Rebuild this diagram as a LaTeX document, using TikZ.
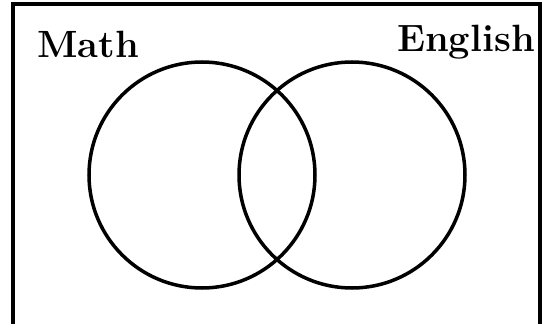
\documentclass[tikz,border=0pt]{standalone}
\usepackage{fontspec}
\tikzset{
  setcircle/.style={draw, circle, line width=3.5pt, minimum size=226pt, inner sep=0pt},
  setlabel/.style={inner sep=0pt, font=\fontsize{38}{42}\selectfont\bfseries},
  frame/.style={draw, line width=4pt}
}
\begin{document}
\begin{tikzpicture}[x=1pt, y=1pt]
  \useasboundingbox (0,0) rectangle (542,-324);
  \clip (0,0) rectangle (542,-324);
  % universal set frame (runs past the lower edge)
  \coordinate (ubl) at (13,-340);
  \coordinate (utr) at (539.5,-4);
  \draw[frame] (ubl) rectangle (utr);
  % the two sets
  \node[setcircle] (math) at (202,-175) {};
  \node[setcircle] (english) at (352,-175) {};
  % set labels
  \node[setlabel, anchor=base west] (mathlabel) at (37,-57) {Math};
  \node[setlabel, anchor=base east] (englishlabel) at (535,-52) {English};
\end{tikzpicture}
\end{document}
